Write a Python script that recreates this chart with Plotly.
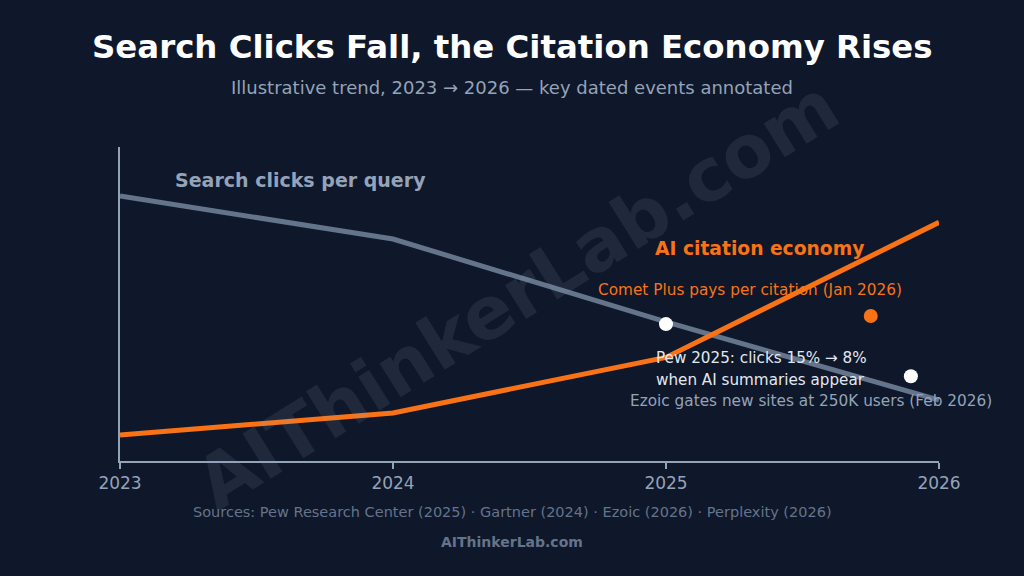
import plotly.graph_objects as go

# ---- data ----
years = [2023, 2024, 2025, 2026]
search_clicks = [84.4, 70.7, 44.3, 19.4]
ai_citation = [8.3, 15.3, 33.0, 76.0]

event_x = [2025.0, 2025.897]
event_y = [43.6, 27.0]
comet_x = [2025.75]
comet_y = [46.2]

tick_vals = [2023, 2024, 2025, 2026]
tick_text = ["2023", "2024", "2025", "2026"]

BG = "#0f172a"
SLATE = "#94a3b8"
DARK_SLATE = "#64748b"
LINE_GRAY = "#64748b"
ORANGE = "#f97316"
FONT = "DejaVu Sans"

fig = go.Figure()
fig.add_trace(go.Scatter(x=years, y=search_clicks, mode="lines",
                         line=dict(color=LINE_GRAY, width=5), hoverinfo="skip"))
fig.add_trace(go.Scatter(x=years, y=ai_citation, mode="lines",
                         line=dict(color=ORANGE, width=5), hoverinfo="skip"))
fig.add_trace(go.Scatter(x=event_x, y=event_y, mode="markers",
                         marker=dict(color="white", size=14), cliponaxis=False, hoverinfo="skip"))
fig.add_trace(go.Scatter(x=comet_x, y=comet_y, mode="markers",
                         marker=dict(color=ORANGE, size=14), cliponaxis=False, hoverinfo="skip"))

W, H = 1024, 576
L, R, T, B = 120, 85, 147, 115
PW, PH = W - L - R, H - T - B

def px2x(px):
    return 2023 + (px - 120) / 273.0

def py2y(py):
    return (461 - py) / 3.14

ann = []

def ptext(px, py, s, size, color, bold=False, angle=0):
    ann.append(dict(x=(px - L) / PW, y=(H - B - py) / PH, xref="paper", yref="paper",
                    text=f"<b>{s}</b>" if bold else s, showarrow=False,
                    xanchor="center", yanchor="middle", textangle=angle,
                    font=dict(family=FONT, size=size, color=color)))

def text(px, py, s, size, color, bold=False):
    ann.append(dict(x=px2x(px), y=py2y(py), xref="x", yref="y", text=f"<b>{s}</b>" if bold else s,
                    showarrow=False, xanchor="left", yanchor="middle",
                    font=dict(family=FONT, size=size, color=color)))

ptext(517, 294, "AIThinkerLab.com", 73, "rgba(148,163,184,0.13)", bold=True, angle=-32)

text(173, 180, "Search clicks per query", 19, SLATE, bold=True)
text(653, 248, "AI citation economy", 18.7, ORANGE, bold=True)
text(596, 290, "Comet Plus pays per citation (Jan 2026)", 15.3, ORANGE)
text(654, 358, "Pew 2025: clicks 15% → 8%", 15.2, "#e2e8f0")
text(654, 380, "when AI summaries appear", 15.2, "#e2e8f0")
text(628, 401, "Ezoic gates new sites at 250K users (Feb 2026)", 15.3, SLATE)

ptext(512, 47, "Search Clicks Fall, the Citation Economy Rises", 32.4, "white", bold=True)
ptext(512, 88, "Illustrative trend, 2023 → 2026 — key dated events annotated", 18, SLATE)
ptext(512, 512, "Sources: Pew Research Center (2025) · Gartner (2024) · Ezoic (2026) · Perplexity (2026)", 14.5, DARK_SLATE)
ptext(512, 542, "AIThinkerLab.com", 14, DARK_SLATE, bold=True)

fig.update_layout(
    width=W, height=H, margin=dict(l=L, r=R, t=T, b=B, pad=0),
    paper_bgcolor=BG, plot_bgcolor=BG, showlegend=False,
    annotations=ann,
    xaxis=dict(range=[2023, 2026], tickvals=tick_vals, ticktext=tick_text,
               showline=True, linecolor=SLATE, linewidth=2, ticks="outside",
               tickcolor=SLATE, ticklen=6, tickwidth=1.5, showgrid=False, zeroline=False,
               tickfont=dict(family=FONT, size=17, color=SLATE), fixedrange=True),
    yaxis=dict(range=[0, 100], showline=True, linecolor=SLATE, linewidth=2,
               showticklabels=False, ticks="", showgrid=False, zeroline=False, fixedrange=True),
)

fig.write_html("out.html", config={"displayModeBar": False})
